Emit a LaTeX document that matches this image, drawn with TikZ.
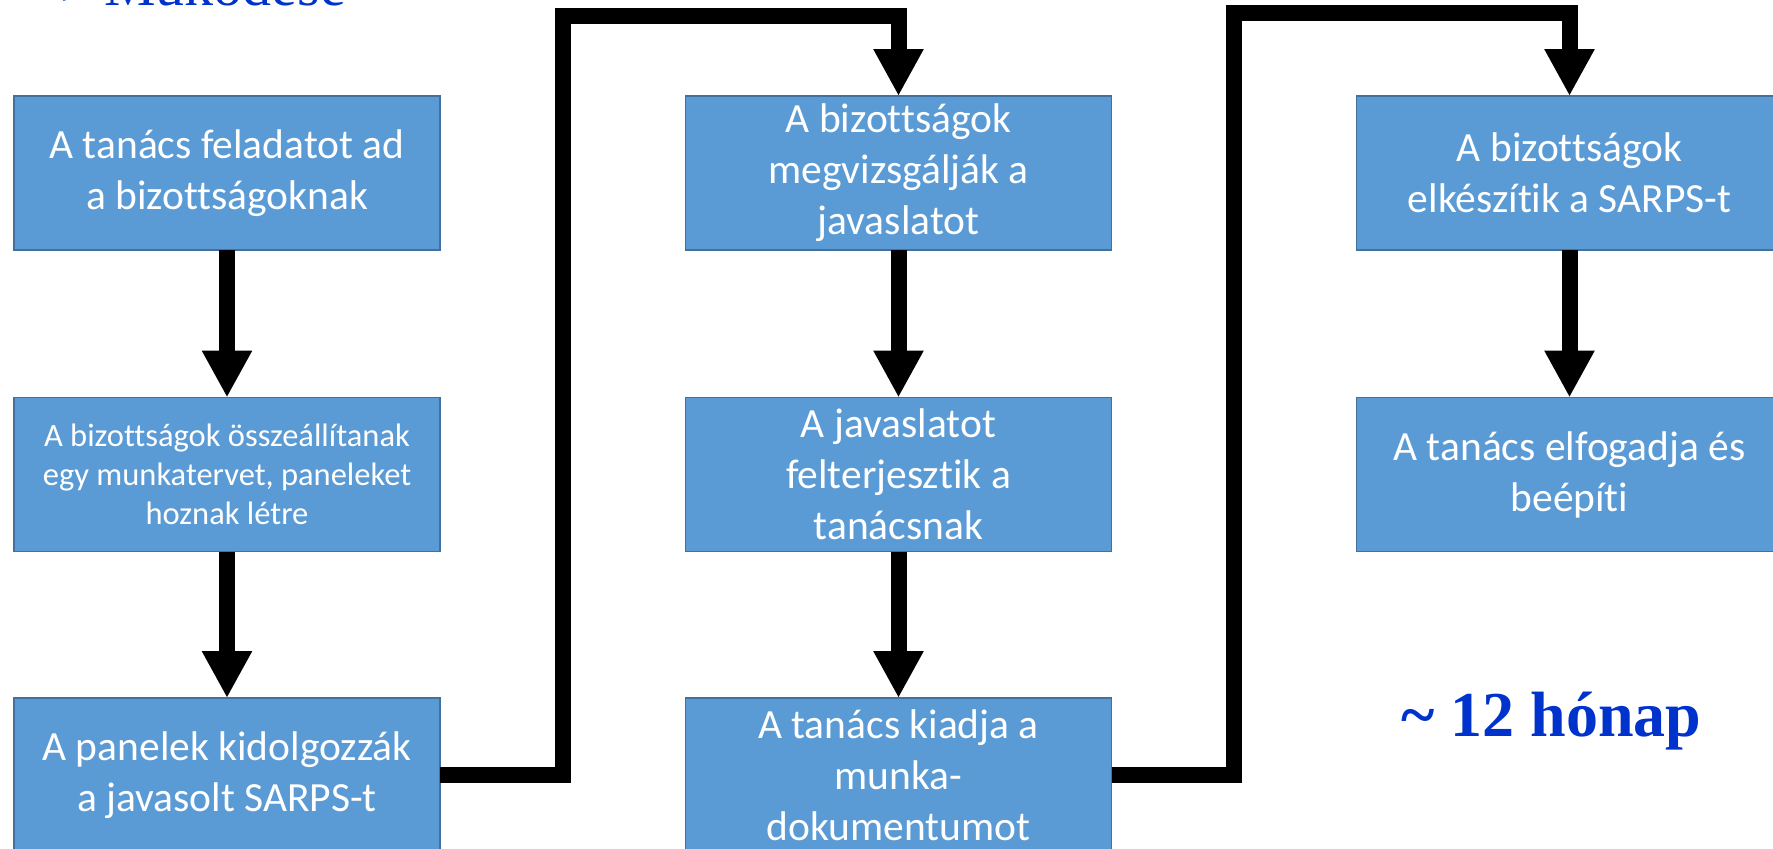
\documentclass[tikz,border=0pt]{standalone}
\usepackage{fontspec}
\setmainfont{Liberation Serif}
\newfontfamily\carlito[Ligatures=NoCommon]{Carlito}
\newfontfamily\dejavu{DejaVu Sans}
\usetikzlibrary{arrows.meta}
\definecolor{boxfill}{HTML}{5B9BD5}
\definecolor{boxline}{HTML}{41719C}
\definecolor{titleblue}{HTML}{0033CC}
\tikzset{
  stepbox/.style={rectangle, draw=boxline, line width=1.5pt, fill=boxfill,
    minimum width=426pt, minimum height=154pt, inner sep=0pt, outer sep=0pt,
    align=center, text=white, font=\carlito\fontsize{41.5}{51}\selectfont},
  smallbox/.style={stepbox, font=\carlito\fontsize{32.5}{39}\selectfont},
  conn/.style={line width=16pt, line join=miter, draw=black,
    -{Triangle[width=47pt,length=47pt]}},
  bigblue/.style={text=titleblue, inner sep=0pt}
}
\begin{document}
\begin{tikzpicture}[x=1pt,y=-1pt]
\useasboundingbox (0,0) rectangle (1773,849);
% title (cut off at top)
\node[bigblue, anchor=base west, font=\dejavu\fontsize{40}{40}\selectfont] (bul) at (58,5) {➢};
\node[bigblue, anchor=base west, font=\fontsize{58}{58}\selectfont] (title) at (104,5) {Működése};
% boxes
\node[stepbox] (b1) at (227,173) {A tanács feladatot ad\\a bizottságoknak};
\node[smallbox] (b2) at (227,474.5) {A bizottságok összeállítanak\\egy munkatervet, paneleket\\hoznak létre};
\node[stepbox] (b3) at (227,775) {A panelek kidolgozzák\\a javasolt SARPS-t};
\node[stepbox] (b4) at (898.5,173) {A bizottságok\\megvizsgálják a\\javaslatot};
\node[stepbox] (b5) at (898.5,474.5) {A javaslatot\\felterjesztik a\\tanácsnak};
\node[stepbox] (b6) at (898.5,775) {A tanács kiadja a\\munka-\\dokumentumot};
\node[stepbox] (b7) at (1569.5,173) {A bizottságok\\elkészítik a SARPS-t};
\node[stepbox] (b8) at (1569.5,474.5) {A tanács elfogadja és\\beépíti};
% time label
\node[bigblue, anchor=base west, font=\bfseries\fontsize{64}{64}\selectfont] (time) at (1401,736) {\textasciitilde\ 12 hónap};
% connectors
\coordinate (k1) at (563,16);
\coordinate (k2) at (1234,13);
\draw[conn] (b1.south) -- (b2.north);
\draw[conn] (b2.south) -- (b3.north);
\draw[conn] (b3.east) -| (k1) -| (b4.north);
\draw[conn] (b4.south) -- (b5.north);
\draw[conn] (b5.south) -- (b6.north);
\draw[conn] (b6.east) -| (k2) -| (b7.north);
\draw[conn] (b7.south) -- (b8.north);
\end{tikzpicture}
\end{document}
